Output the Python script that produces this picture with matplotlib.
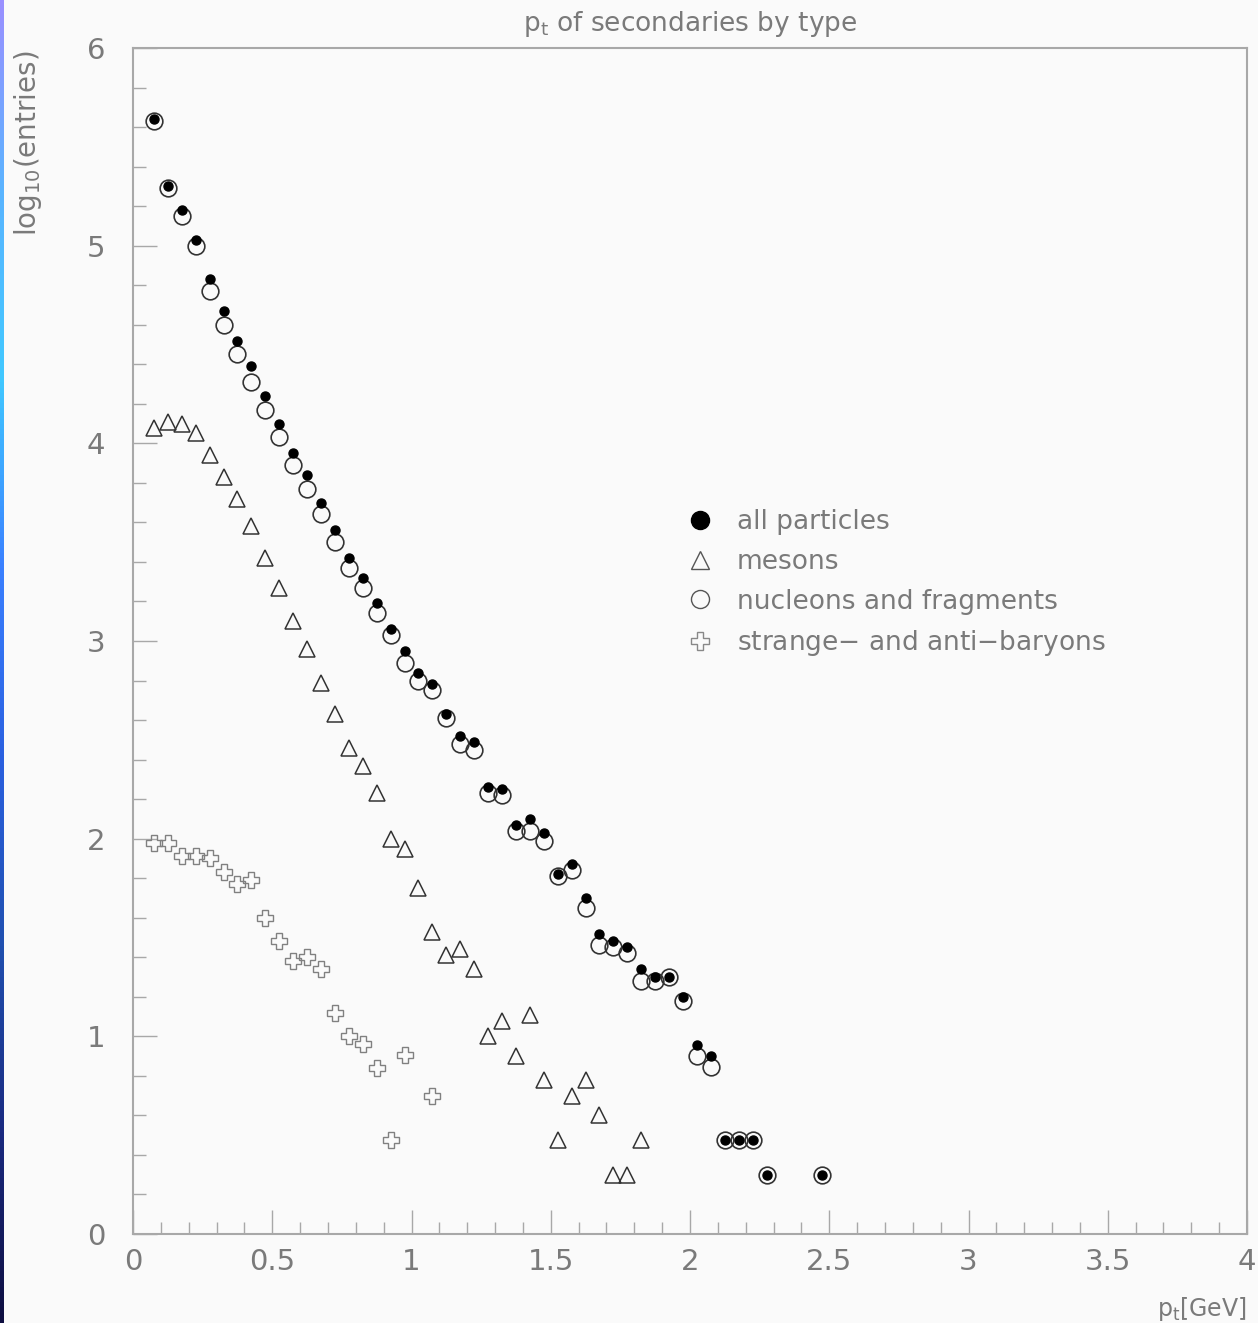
import matplotlib.pyplot as plt
import numpy as np
from matplotlib.colors import LinearSegmentedColormap
from matplotlib.lines import Line2D
from matplotlib.ticker import MultipleLocator

# bin centres are 0.05 wide, starting at 0.075 GeV
PT_ALL = [0.075, 0.125, 0.175, 0.225, 0.275, 0.325, 0.375, 0.425, 0.475, 0.525,
          0.575, 0.625, 0.675, 0.725, 0.775, 0.825, 0.875, 0.925, 0.975, 1.025,
          1.075, 1.125, 1.175, 1.225, 1.275, 1.325, 1.375, 1.425, 1.475, 1.525,
          1.575, 1.625, 1.675, 1.725, 1.775, 1.825, 1.875, 1.925, 1.975, 2.025,
          2.075, 2.125, 2.175, 2.225, 2.275, 2.475]

LOG_ALL = [5.64, 5.30, 5.18, 5.03, 4.83, 4.67, 4.52, 4.39, 4.24, 4.10,
           3.95, 3.84, 3.70, 3.56, 3.42, 3.32, 3.19, 3.06, 2.95, 2.84,
           2.78, 2.63, 2.52, 2.49, 2.26, 2.25, 2.07, 2.10, 2.03, 1.82,
           1.87, 1.70, 1.52, 1.48, 1.45, 1.34, 1.30, 1.30, 1.20, 0.954,
           0.903, 0.477, 0.477, 0.477, 0.301, 0.301]

LOG_NUCLEONS = [5.63, 5.29, 5.15, 5.00, 4.77, 4.60, 4.45, 4.31, 4.17, 4.03,
                3.89, 3.77, 3.64, 3.50, 3.37, 3.27, 3.14, 3.03, 2.89, 2.80,
                2.75, 2.61, 2.48, 2.45, 2.23, 2.22, 2.04, 2.04, 1.99, 1.81,
                1.84, 1.65, 1.46, 1.45, 1.42, 1.28, 1.28, 1.30, 1.18, 0.903,
                0.845, 0.477, 0.477, 0.477, 0.301, 0.301]

PT_MESONS = [0.075, 0.125, 0.175, 0.225, 0.275, 0.325, 0.375, 0.425, 0.475, 0.525,
             0.575, 0.625, 0.675, 0.725, 0.775, 0.825, 0.875, 0.925, 0.975, 1.025,
             1.075, 1.125, 1.175, 1.225, 1.275, 1.325, 1.375, 1.425, 1.475, 1.525,
             1.575, 1.625, 1.675, 1.725, 1.775, 1.825]

LOG_MESONS = [4.08, 4.11, 4.10, 4.05, 3.94, 3.83, 3.72, 3.58, 3.42, 3.27,
              3.10, 2.96, 2.79, 2.63, 2.46, 2.37, 2.23, 2.00, 1.95, 1.75,
              1.53, 1.41, 1.44, 1.34, 1.00, 1.08, 0.90, 1.11, 0.78, 0.477,
              0.70, 0.78, 0.60, 0.301, 0.301, 0.477]

PT_STRANGE = [0.075, 0.125, 0.175, 0.225, 0.275, 0.325, 0.375, 0.425, 0.475, 0.525,
              0.575, 0.625, 0.675, 0.725, 0.775, 0.825, 0.875, 0.925, 0.975, 1.075]

LOG_STRANGE = [1.98, 1.98, 1.91, 1.91, 1.90, 1.83, 1.77, 1.79, 1.60, 1.48,
               1.38, 1.40, 1.34, 1.12, 1.00, 0.96, 0.84, 0.477, 0.905, 0.70]

LABELS = ["all particles", "mesons", "nucleons and fragments",
          "strange$-$ and anti$-$baryons"]

TEXT_GREY = "#7a7a7a"
FRAME_GREY = "#a8a8a8"

plt.rcParams["font.family"] = "DejaVu Sans"
plt.rcParams["mathtext.default"] = "regular"


def main():
    fig = plt.figure(figsize=(12.58, 13.23), dpi=100, facecolor="#fafafa")

    # slide background sliver on the left edge
    strip = fig.add_axes([0, 0, 4 / 1258, 1])
    cmap = LinearSegmentedColormap.from_list(
        "edge", ["#9a90ff", "#5ab4ff", "#40c8ff", "#3a80ff", "#2a60e0",
                 "#2050b0", "#1a2a80", "#0e0e40"])
    strip.imshow(np.linspace(0, 1, 256).reshape(-1, 1), aspect="auto", cmap=cmap)
    strip.axis("off")

    ax = fig.add_axes([133 / 1258, 89 / 1323, 1114 / 1258, 1186 / 1323])
    ax.set_facecolor("#fafafa")

    ax.plot(PT_MESONS, LOG_MESONS, linestyle="none", marker="^", markersize=12,
            markerfacecolor="none", markeredgecolor="#333333", markeredgewidth=1.1)
    ax.plot(PT_STRANGE, LOG_STRANGE, linestyle="none", marker="P", markersize=12,
            markerfacecolor="none", markeredgecolor="#808080", markeredgewidth=1.0)
    ax.plot(PT_ALL, LOG_NUCLEONS, linestyle="none", marker="o", markersize=12,
            markerfacecolor="none", markeredgecolor="#333333", markeredgewidth=1.2)
    ax.plot(PT_ALL, LOG_ALL, linestyle="none", marker="o", markersize=6.5,
            markerfacecolor="black", markeredgecolor="black")

    ax.set_xlim(0, 4)
    ax.set_ylim(0, 6)
    ax.xaxis.set_major_locator(MultipleLocator(0.5))
    ax.xaxis.set_minor_locator(MultipleLocator(0.1))
    ax.yaxis.set_major_locator(MultipleLocator(1))
    ax.yaxis.set_minor_locator(MultipleLocator(0.2))
    ax.xaxis.set_major_formatter(lambda v, p: f"{v:g}")

    ax.tick_params(which="both", direction="in", colors=FRAME_GREY,
                   labelcolor=TEXT_GREY, labelsize=21, top=False, right=False)
    ax.tick_params(axis="x", which="major", length=17, width=1, pad=10)
    ax.tick_params(axis="x", which="minor", length=9, width=1)
    ax.tick_params(axis="y", which="major", length=17, width=1, pad=20)
    ax.tick_params(axis="y", which="minor", length=9, width=1)
    for spine in ax.spines.values():
        spine.set_color(FRAME_GREY)
        spine.set_linewidth(1.5)

    ax.set_title("p$_t$ of secondaries by type", color=TEXT_GREY, fontsize=19, pad=12)
    ax.set_ylabel("log$_{10}$(entries)", color=TEXT_GREY, fontsize=20, loc="top")
    ax.yaxis.set_label_coords(-0.08, 0.998)
    ax.set_xlabel("p$_t$[GeV]", color=TEXT_GREY, fontsize=17, loc="right", labelpad=14)

    handles = [
        Line2D([], [], linestyle="none", marker="o", markersize=13,
               markerfacecolor="black", markeredgecolor="black"),
        Line2D([], [], linestyle="none", marker="^", markersize=13,
               markerfacecolor="none", markeredgecolor="#555555"),
        Line2D([], [], linestyle="none", marker="o", markersize=13,
               markerfacecolor="none", markeredgecolor="#555555"),
        Line2D([], [], linestyle="none", marker="P", markersize=13,
               markerfacecolor="none", markeredgecolor="#888888"),
    ]
    leg = ax.legend(handles, LABELS, loc="upper left", bbox_to_anchor=(0.485, 0.62),
                    frameon=False, fontsize=19, labelspacing=0.52,
                    handletextpad=0.8, handlelength=1.2, borderaxespad=0)
    for t in leg.get_texts():
        t.set_color(TEXT_GREY)

    fig.savefig("out.png", dpi=100, facecolor=fig.get_facecolor())


if __name__ == "__main__":
    main()
